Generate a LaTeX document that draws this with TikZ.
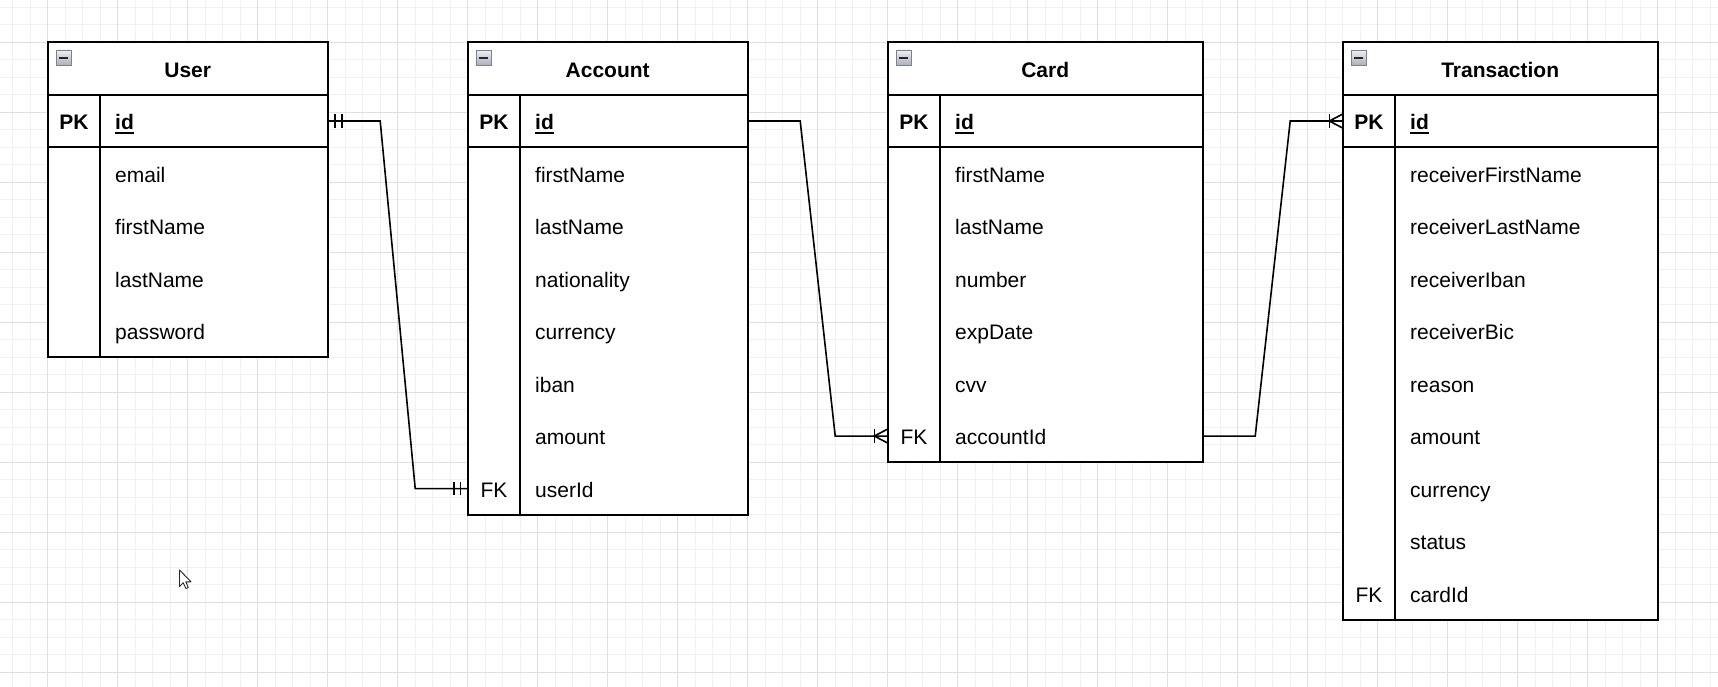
\documentclass[tikz,border=0pt]{standalone}
\usepackage{fontspec}
\setmainfont{Liberation Sans}
\usetikzlibrary{calc}
\definecolor{gridminor}{RGB}{241,241,241}
\definecolor{gridmajor}{RGB}{224,224,224}
\definecolor{iconfilltop}{RGB}{236,237,242}
\definecolor{iconfillbot}{RGB}{168,172,184}
\definecolor{iconedge}{RGB}{125,130,144}
\newcommand\ertable[5]{% name, x, width, title, nrows
  \pgfmathsetmacro\tabh{52.5*#5}
  \node[tab, fill=white, minimum width=#3bp, minimum height=\tabh bp, anchor=north west] (#1) at (#2,42.3) {};
  \draw[tabline] ($(#1.north west)+(0,52.5)$) -- ($(#1.north east)+(0,52.5)$);
  \draw[tabline] ($(#1.north west)+(0,105)$) -- ($(#1.north east)+(0,105)$);
  \draw[tabline] ($(#1.north west)+(52.5,52.5)$) -- ($(#1.south west)+(52.5,0)$);
  \node[ttl, anchor=base] (#1-title) at ($(#1.north)+(0,35)$) {#4};
  \shade[top color=iconfilltop, bottom color=iconfillbot, draw=iconedge, line width=1.1bp]
    ($(#1.north west)+(8.4,8.4)$) rectangle ($(#1.north west)+(23.6,23.6)$);
  \draw[line width=2bp, black!85] ($(#1.north west)+(11.6,16)$) -- ($(#1.north west)+(20.4,16)$);
}
\newcommand\errow[4]{% tab, node, row, width
  \node[rowbox, minimum width=#4bp] (#2) at ($(#1.north west)+(0,52.5*#3)$) {};}
\newcommand\erfield[5]{% tab, node, row, text, width
  \errow{#1}{#2}{#3}{#5}
  \node[fld, anchor=base west] (#2-t) at ($(#1.north west)+(67.5,52.5*#3+35)$) {#4};}
\newcommand\erfk[5]{% tab, node, row, text, width
  \erfield{#1}{#2}{#3}{#4}{#5}
  \node[fld, anchor=base] (#2-k) at ($(#1.north west)+(26.25,52.5*#3+35)$) {FK};}
\newcommand\erpk[3]{% tab, node, width
  \errow{#1}{#2}{1}{#3}
  \node[fldb, anchor=base] (#2-k) at ($(#1.north west)+(26.25,87.5)$) {PK};
  \node[fldb, anchor=base west] (#2-t) at ($(#1.north west)+(67.5,87.5)$) {id};
  \draw[line width=1.8bp] ($(#2-t.base west)+(0,2.9)$) -- ($(#2-t.base east)+(0,2.9)$);}
\begin{document}
\begin{tikzpicture}[x=1bp,y=-1bp,
  tab/.style={draw=black, line width=1.75bp, inner sep=0pt, outer sep=0pt},
  tabline/.style={draw=black, line width=1.75bp},
  conn/.style={draw=black, line width=1.6bp},
  ttl/.style={font=\fontsize{21bp}{25bp}\selectfont\bfseries, inner sep=0pt, outer sep=0pt},
  fld/.style={font=\fontsize{21bp}{25bp}\selectfont, inner sep=0pt, outer sep=0pt},
  fldb/.style={font=\fontsize{21bp}{25bp}\selectfont\bfseries, inner sep=0pt, outer sep=0pt},
  rowbox/.style={inner sep=0pt, outer sep=0pt, minimum height=52.5bp, anchor=north west},
  gmin/.style={draw=gridminor, line width=1bp},
  gmaj/.style={draw=gridmajor, line width=1bp}]
\useasboundingbox (0,0) rectangle (1718,687);
\fill[white] (0,0) rectangle (1718,687);
% grid
\foreach \j in {0,...,97} {\draw[gmin] (12.7+17.5*\j,0) -- (12.7+17.5*\j,687);}
\foreach \i in {0,...,38} {\draw[gmin] (0,7.3+17.5*\i) -- (1718,7.3+17.5*\i);}
\foreach \j in {0,...,23} {\draw[gmaj] (47.7+70*\j,0) -- (47.7+70*\j,687);}
\foreach \i in {0,...,9} {\draw[gmaj] (0,42.3+70*\i) -- (1718,42.3+70*\i);}
% User
\ertable{user}{47.7}{280}{User}{6}
\erpk{user}{userid}{280}
\erfield{user}{useremail}{2}{email}{280}
\erfield{user}{userfirst}{3}{firstName}{280}
\erfield{user}{userlast}{4}{lastName}{280}
\erfield{user}{userpass}{5}{password}{280}
% Account
\ertable{acc}{467.7}{280}{Account}{9}
\erpk{acc}{accid}{280}
\erfield{acc}{accfirst}{2}{firstName}{280}
\erfield{acc}{acclast}{3}{lastName}{280}
\erfield{acc}{accnat}{4}{nationality}{280}
\erfield{acc}{acccur}{5}{currency}{280}
\erfield{acc}{acciban}{6}{iban}{280}
\erfield{acc}{accamount}{7}{amount}{280}
\erfk{acc}{accuser}{8}{userId}{280}
% Card
\ertable{card}{887.7}{315}{Card}{8}
\erpk{card}{cardid}{315}
\erfield{card}{cardfirst}{2}{firstName}{315}
\erfield{card}{cardlast}{3}{lastName}{315}
\erfield{card}{cardnum}{4}{number}{315}
\erfield{card}{cardexp}{5}{expDate}{315}
\erfield{card}{cardcvv}{6}{cvv}{315}
\erfk{card}{cardacc}{7}{accountId}{315}
% Transaction
\ertable{tr}{1342.7}{315}{Transaction}{11}
\erpk{tr}{trid}{315}
\erfield{tr}{trfirst}{2}{receiverFirstName}{315}
\erfield{tr}{trlast}{3}{receiverLastName}{315}
\erfield{tr}{triban}{4}{receiverIban}{315}
\erfield{tr}{trbic}{5}{receiverBic}{315}
\erfield{tr}{trreason}{6}{reason}{315}
\erfield{tr}{tramount}{7}{amount}{315}
\erfield{tr}{trcur}{8}{currency}{315}
\erfield{tr}{trstatus}{9}{status}{315}
\erfk{tr}{trcard}{10}{cardId}{315}
% connectors
\draw[conn] (userid.east) -- ++(52.5,0) -- ($(accuser.west)+(-52.5,0)$) -- (accuser.west);
\draw[conn] ($(userid.east)+(7.3,-6.7)$) -- ++(0,13.4);
\draw[conn] ($(userid.east)+(14,-6.7)$) -- ++(0,13.4);
\draw[conn] ($(accuser.west)+(-7.3,-6.7)$) -- ++(0,13.4);
\draw[conn] ($(accuser.west)+(-14,-6.7)$) -- ++(0,13.4);
\draw[conn] (accid.east) -- ++(52.5,0) -- ($(cardacc.west)+(-52.5,0)$) -- (cardacc.west);
\draw[conn] ($(cardacc.west)+(-13.4,-6.7)$) -- ++(0,13.4);
\draw[conn] ($(cardacc.west)+(0,-7)$) -- ($(cardacc.west)+(-13.4,0)$) -- ($(cardacc.west)+(0,7)$);
\draw[conn] (cardacc.east) -- ++(52.5,0) -- ($(trid.west)+(-52.5,0)$) -- (trid.west);
\draw[conn] ($(trid.west)+(-13.4,-6.7)$) -- ++(0,13.4);
\draw[conn] ($(trid.west)+(0,-7)$) -- ($(trid.west)+(-13.4,0)$) -- ($(trid.west)+(0,7)$);
% mouse pointer
\filldraw[fill=white, draw=black!85, line width=0.9bp, line join=round]
  (179.5,570) -- ++(0,16.5) -- ++(3.8,-3.7) -- ++(2.6,5.7) -- ++(2.4,-1) -- ++(-2.5,-5.7) -- ++(5.2,0) -- cycle;
\end{tikzpicture}
\end{document}
